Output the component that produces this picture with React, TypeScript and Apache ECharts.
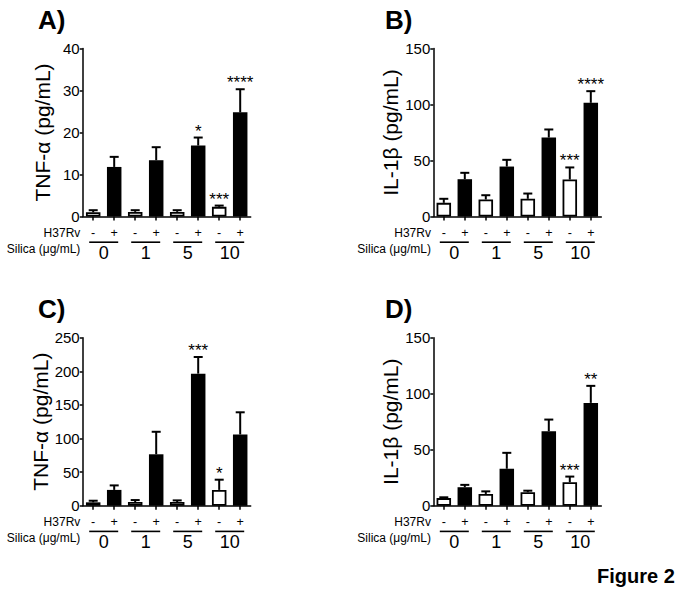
import React, { useEffect, useRef } from "react";
import * as echarts from "echarts";

const FONT = "'Liberation Sans', Arial, Helvetica, sans-serif";

// categories: silica group | H37Rv (-/+)
const categories = ["0|-", "0|+", "1|-", "1|+", "5|-", "5|+", "10|-", "10|+"];
const silicaGroups = ["0", "1", "5", "10"];

// Panel A: TNF-α
const aMean = [1.0, 11.8, 1.1, 13.4, 1.1, 16.9, 2.3, 24.8];
const aTop = [1.5, 14.2, 1.5, 16.5, 1.5, 18.8, 2.6, 30.3];
const aStars = ["", "", "", "", "", "*", "***", "****"];

// Panel B: IL-1β
const bMean = [12.2, 33.3, 15.2, 44.6, 15.8, 70.5, 33.0, 101.5];
const bTop = [15.8, 39.0, 19.0, 50.6, 20.5, 77.7, 43.8, 111.9];
const bStars = ["", "", "", "", "", "", "***", "****"];

// Panel C: TNF-α
const cMean = [5.0, 23.5, 5.5, 76.5, 5.5, 196.5, 23.5, 106.0];
const cTop = [7.4, 30.2, 8.4, 110.0, 7.9, 221.3, 38.7, 139.0];
const cStars = ["", "", "", "", "", "***", "*", ""];

// Panel D: IL-1β
const dMean = [6.8, 16.5, 10.5, 33.0, 12.0, 66.5, 21.0, 91.8];
const dTop = [7.5, 18.6, 12.8, 47.2, 13.4, 76.9, 26.0, 107.0];
const dStars = ["", "", "", "", "", "", "***", "**"];

const panelLetters = ["A)", "B)", "C)", "D)"];
const yTitles = ["TNF-α (pg/mL)", "IL-1β (pg/mL)", "TNF-α (pg/mL)", "IL-1β (pg/mL)"];
const yMax = [40, 150, 250, 150];
const yInterval = [10, 50, 50, 50];
const rowLabel1 = "H37Rv";
const rowLabel2 = "Silica (μg/mL)";
const figureLabel = "Figure 2";

const means = [aMean, bMean, cMean, dMean];
const tops = [aTop, bTop, cTop, dTop];
const stars = [aStars, bStars, cStars, dStars];

const layout = [
  { left: 82.7, top: 48.5, letterX: 38 },
  { left: 433.3, top: 48.5, letterX: 385 },
  { left: 82.7, top: 337.7, letterX: 38 },
  { left: 433.3, top: 337.7, letterX: 385 },
];
const GW = 168;
const GH = 168;

export default function App() {
  const ref = useRef<HTMLDivElement>(null);
  useEffect(() => {
    if (!ref.current) return;
    const chart = echarts.init(ref.current, null, { renderer: "svg" });
    const axisColor = "#000";
    const grids: any[] = [];
    const xAxes: any[] = [];
    const yAxes: any[] = [];
    const series: any[] = [];
    const graphics: any[] = [];

    layout.forEach((p, i) => {
      grids.push({ left: p.left, top: p.top, width: GW, height: GH, containLabel: false });
      xAxes.push({
        gridIndex: i,
        type: "category",
        data: categories,
        axisLine: { show: true, lineStyle: { color: axisColor, width: 1.5 } },
        axisTick: { show: true, alignWithLabel: true, length: 4, lineStyle: { color: axisColor, width: 1.5 } },
        axisLabel: {
          formatter: (v: string) => v.split("|")[1],
          fontSize: 12.5,
          color: "#000",
          margin: 10,
          fontFamily: FONT,
          interval: 0,
        },
        splitLine: { show: false },
      });
      xAxes.push({
        gridIndex: i,
        type: "category",
        data: silicaGroups,
        position: "bottom",
        offset: 0,
        axisLine: { show: false },
        axisTick: { show: false },
        axisLabel: { fontSize: 18, color: "#000", margin: 27, fontFamily: FONT, interval: 0 },
        splitLine: { show: false },
      });
      yAxes.push({
        gridIndex: i,
        type: "value",
        min: 0,
        max: yMax[i],
        interval: yInterval[i],
        axisLine: { show: true, lineStyle: { color: axisColor, width: 1.5 } },
        axisTick: { show: true, length: 3, lineStyle: { color: axisColor, width: 1.5 } },
        splitLine: { show: false },
        axisLabel: { fontSize: 15, color: "#000", margin: 3, fontFamily: FONT },
        name: yTitles[i],
        nameLocation: "middle",
        nameGap: 30,
        nameTextStyle: { fontSize: 21, color: "#000", fontFamily: FONT },
      });

      const m = means[i];
      const t = tops[i];
      const s = stars[i];
      series.push({
        type: "bar",
        xAxisIndex: 2 * i,
        yAxisIndex: i,
        barWidth: 14.5,
        data: m.map((v, j) => ({
          value: v,
          itemStyle:
            j % 2 === 0
              ? { color: "#fff", borderColor: "#000", borderWidth: 1.8 }
              : { color: "#000", borderColor: "#000", borderWidth: 0 },
        })),
        z: 2,
      });
      series.push({
        type: "custom",
        xAxisIndex: 2 * i,
        yAxisIndex: i,
        clip: false,
        silent: true,
        z: 3,
        encode: { x: 0, y: [1, 2] },
        data: m.map((v, j) => [j, v, t[j]]),
        renderItem: (params: any, api: any) => {
          const idx = api.value(0);
          const pm = api.coord([idx, api.value(1)]);
          const pt = api.coord([idx, api.value(2)]);
          const x = pm[0];
          const star = s[params.dataIndex];
          const children: any[] = [
            { type: "line", shape: { x1: x, y1: pm[1], x2: x, y2: pt[1] }, style: { stroke: "#000", lineWidth: 2 } },
            { type: "line", shape: { x1: x - 4.5, y1: pt[1], x2: x + 4.5, y2: pt[1] }, style: { stroke: "#000", lineWidth: 2 } },
          ];
          if (star) {
            children.push({
              type: "text",
              style: {
                text: star,
                x: x,
                y: pt[1] - 6.5,
                align: "center",
                verticalAlign: "middle",
                fontSize: 17,
                fontFamily: FONT,
                fill: "#000",
              },
            });
          }
          return { type: "group", children };
        },
      });
      series.push({
        type: "custom",
        xAxisIndex: 2 * i + 1,
        yAxisIndex: i,
        clip: false,
        silent: true,
        data: silicaGroups.map((g, k) => [k, 0]),
        renderItem: (params: any, api: any) => {
          const c = api.coord([api.value(0), 0]);
          return {
            type: "line",
            shape: { x1: c[0] - 14.5, y1: c[1] + 25.7, x2: c[0] + 14.5, y2: c[1] + 25.7 },
            style: { stroke: "#000", lineWidth: 1.6 },
          };
        },
      });

      const dx = p.left - 82.7;
      const dy = p.top - 48.5;
      graphics.push({
        type: "text",
        x: p.letterX,
        y: 19.5 + dy,
        style: { text: panelLetters[i], fontSize: 26, fontWeight: "bold", fontFamily: FONT, fill: "#000", align: "left", verticalAlign: "middle" },
      });
      graphics.push({
        type: "text",
        x: 80.3 + dx,
        y: 233 + dy,
        style: { text: rowLabel1, fontSize: 12, fontFamily: FONT, fill: "#000", align: "right", verticalAlign: "middle" },
      });
      graphics.push({
        type: "text",
        x: 80.3 + dx,
        y: 249 + dy,
        style: { text: rowLabel2, fontSize: 12, fontFamily: FONT, fill: "#000", align: "right", verticalAlign: "middle" },
      });
    });

    graphics.push({
      type: "text",
      x: 597,
      y: 575.5,
      style: { text: figureLabel, fontSize: 20, fontWeight: "bold", fontFamily: FONT, fill: "#000", align: "left", verticalAlign: "middle" },
    });

    chart.setOption({
      animation: false,
      backgroundColor: "#fff",
      textStyle: { fontFamily: FONT },
      grid: grids,
      xAxis: xAxes,
      yAxis: yAxes,
      series,
      graphic: graphics,
    });
    return () => chart.dispose();
  }, []);
  return <div ref={ref} style={{ position: "fixed", left: 0, top: 0, width: 683, height: 598 }} />;
}
